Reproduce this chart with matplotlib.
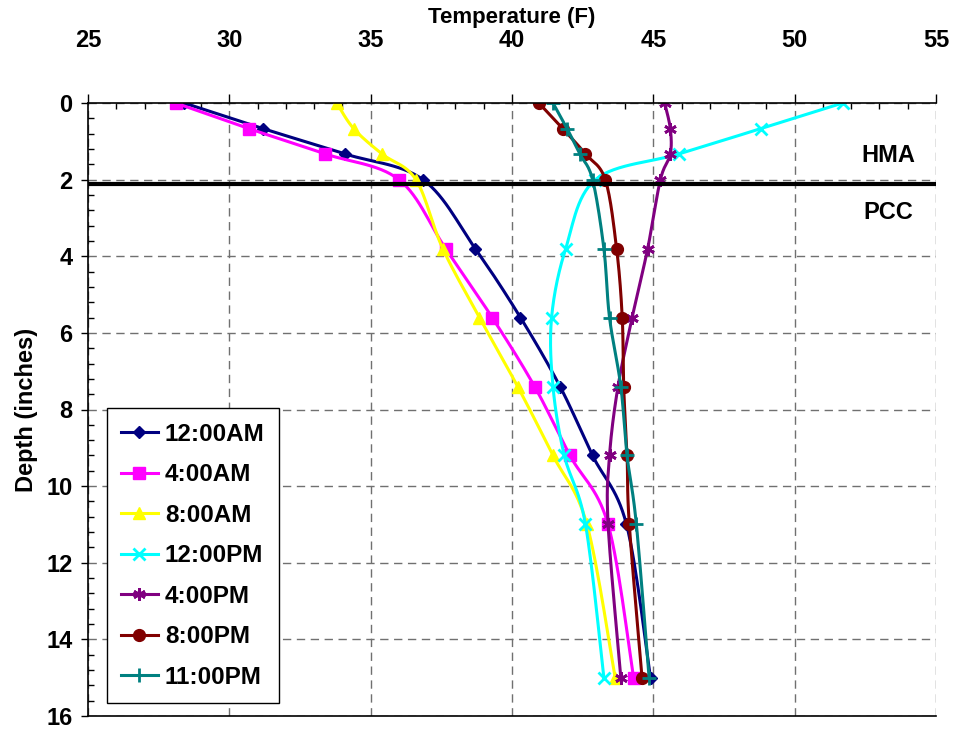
import numpy as np
import matplotlib
matplotlib.use("Agg")
import matplotlib.pyplot as plt
from matplotlib.ticker import MultipleLocator

plt.rcParams['font.family'] = ['Liberation Sans', 'DejaVu Sans']
plt.rcParams['font.weight'] = 'bold'

# depth of the sensors (inches)
depth = [0, 0.67, 1.33, 2.0, 3.8, 5.6, 7.4, 9.2, 11.0, 15.0]

# temperature (F) at each depth
t_1200am = [28.4, 31.2, 34.1, 36.85, 38.7, 40.3, 41.7, 42.85, 44.05, 44.9]
t_0400am = [28.1, 30.7, 33.4, 36.0, 37.65, 39.3, 40.8, 42.05, 43.4, 44.3]
t_0800am = [33.8, 34.4, 35.4, 36.6, 37.55, 38.85, 40.2, 41.45, 42.65, 43.65]
t_1200pm = [51.7, 48.8, 45.9, 42.95, 41.9, 41.4, 41.45, 41.85, 42.6, 43.25]
t_0400pm = [45.4, 45.6, 45.6, 45.25, 44.8, 44.25, 43.75, 43.45, 43.4, 43.85]
t_0800pm = [40.95, 41.8, 42.6, 43.3, 43.7, 43.9, 43.95, 44.07, 44.15, 44.6]
t_1100pm = [41.45, 41.95, 42.4, 42.85, 43.25, 43.45, 43.85, 44.07, 44.4, 44.85]

labels = ['12:00AM', '4:00AM', '8:00AM', '12:00PM', '4:00PM', '8:00PM', '11:00PM']
series = [t_1200am, t_0400am, t_0800am, t_1200pm, t_0400pm, t_0800pm, t_1100pm]
colors = ['#000080', '#FF00FF', '#FFFF00', '#00FFFF', '#800080', '#800000', '#008080']
markers = ['D', 's', '^', 'x', (6, 2, 0), 'o', '+']
msizes = [6.5, 8, 8.5, 8.5, 9, 8.5, 10]

layer_line = 2.12  # HMA / PCC interface


def smooth(x, y, n=16, sx=28.27, sy=38.3):
    # excel style smoothed line (bezier through the points, screen scaled)
    p = np.column_stack([np.asarray(x) * sx, np.asarray(y) * sy])
    q = np.vstack([p[0], p, p[-1]])
    t = np.linspace(0, 1, n)[:, None]
    out = [p[:1]]
    for i in range(len(p) - 1):
        p0, p1, p2, p3 = q[i], q[i + 1], q[i + 2], q[i + 3]
        c1 = p1 + (p2 - p0) / 6
        c2 = p2 - (p3 - p1) / 6
        seg = (1 - t)**3 * p1 + 3 * (1 - t)**2 * t * c1 + 3 * (1 - t) * t**2 * c2 + t**3 * p2
        out.append(seg[1:])
    out = np.vstack(out)
    idx = list(range(0, len(out), n - 1))
    return out[:, 0] / sx, out[:, 1] / sy, idx


fig = plt.figure(figsize=(9.54, 7.29), dpi=100)
ax = fig.add_axes([88 / 954, 1 - 716 / 729, 848 / 954, 613 / 729])

for temps, lab, c, m, ms in zip(series, labels, colors, markers, msizes):
    xs, ys, idx = smooth(temps, depth)
    ax.plot(xs, ys, color=c, lw=2.2, marker=m, ms=ms, mew=2 if m in ('x', '+', (6, 2, 0)) else 1,
            mec=c, mfc=c, markevery=idx, label=lab)

ax.axhline(layer_line, color='black', lw=3, zorder=5)
ax.text(53.3, 1.38, 'HMA', fontsize=17, fontweight='bold', ha='center', va='center')
ax.text(53.3, 2.87, 'PCC', fontsize=17, fontweight='bold', ha='center', va='center')

ax.set_xlim(25, 55)
ax.set_ylim(16, 0)
ax.xaxis.set_major_locator(MultipleLocator(5))
ax.xaxis.set_minor_locator(MultipleLocator(1))
ax.yaxis.set_major_locator(MultipleLocator(2))
ax.yaxis.set_minor_locator(MultipleLocator(0.4))
ax.xaxis.tick_top()
ax.xaxis.set_label_position('top')

ax.tick_params(axis='x', which='major', direction='out', length=6.5, width=1, labelsize=17, pad=30)
ax.tick_params(axis='x', which='minor', direction='in', length=4.5, width=1)
ax.tick_params(axis='y', which='major', direction='out', length=5, width=1, labelsize=17, pad=6)
ax.tick_params(axis='y', which='minor', direction='in', length=4, width=1)
for lab in ax.get_xticklabels() + ax.get_yticklabels():
    lab.set_fontweight('bold')

ax.grid(True, which='major', color='#707070', lw=1, linestyle=(0, (6, 4)))
ax.spines['right'].set_visible(False)
for s in ('left', 'top', 'bottom'):
    ax.spines[s].set_linewidth(1.2)

fig.text(512 / 954, 1 - 17 / 729, 'Temperature (F)', fontsize=16, fontweight='bold',
         ha='center', va='center')
ax.set_ylabel('Depth (inches)', fontsize=17, fontweight='bold', labelpad=6)

leg = ax.legend(loc='lower left', bbox_to_anchor=(0.022, 0.021),
                frameon=True, fancybox=False, edgecolor='black', framealpha=1,
                handlelength=1.5, handletextpad=0.3, labelspacing=0.72, borderpad=0.6,
                borderaxespad=0, prop={'weight': 'bold', 'size': 17.5})
leg.get_frame().set_linewidth(1)

fig.savefig('out.png', dpi=100)
